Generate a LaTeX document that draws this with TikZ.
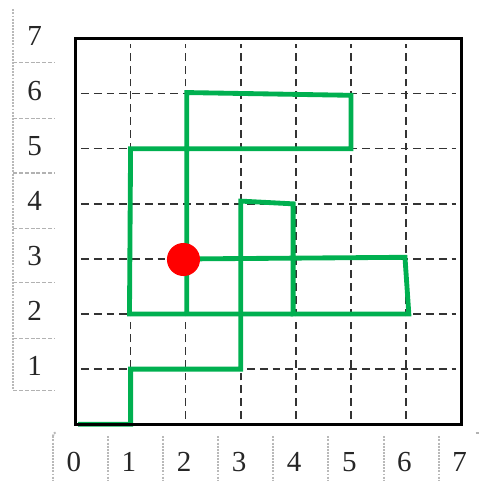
\documentclass[tikz,border=0pt]{standalone}
\usepackage{fontspec}
\setmainfont{Liberation Serif}
\definecolor{routegreen}{HTML}{00B050}
\begin{document}
\begin{tikzpicture}[
  font=\fontsize{15}{17}\selectfont,
  frame/.style={line width=1.4pt},
  gridline/.style={dash pattern=on 4pt off 2.6pt, line width=0.75pt, black!80},
  route/.style={line width=2.5pt, routegreen},
  axlabel/.style={inner sep=0pt, text=black!85},
  cellside/.style={gray!55, line width=1pt, dash pattern=on 1pt off 0.6pt},
  cellrule/.style={gray!60, line width=0.6pt, dash pattern=on 2pt off 1pt},
  dot/.style={circle, fill=red, inner sep=0pt, minimum size=0.6cm}
]
\useasboundingbox (-1.37,-1.03) rectangle (7.34,7.70);

% dashed grid
\foreach \i in {1,...,6} {
  \draw[gridline] (\i,0.1) -- (\i,6.9);
  \draw[gridline] (0.1,\i) -- (6.9,\i);
}

% green route
\draw[route] (0.05,0) -- (1,0) -- (1,1) -- (3,1) -- (3,4.05) -- (3.95,4)
  -- (3.95,2) -- (6.05,2) -- (5.98,3.03) -- (2,3);
\draw[route] (2.02,2) -- (2.02,6.02) -- (5,5.97) -- (5,5) -- (1,5)
  -- (0.98,2) -- (3.95,2);

\node[dot] (start) at (1.96,2.99) {};

\draw[frame] (0,0) rectangle (7,7);

% y labels
\draw[cellside] (-1.13,7.53) -- (-1.13,0.62);
\foreach \h in {0.62,1.56,2.57,3.56,4.56,5.55,6.57}
  \draw[cellrule] (-1.13,\h) -- (-0.37,\h);
\foreach \k in {1,...,7}
  \node[axlabel] (y\k) at (-0.74,\k+0.05) {\k};

% x labels
\foreach \s in {-0.41,0.59,1.59,2.59,3.58,4.58,5.60,6.60}
  \draw[cellside] (\s,-0.22) -- (\s,-1.03);
\draw[cellside] (-0.41,-0.22) to[out=90,in=200] (-0.35,-0.14);
\draw[cellrule] (7.26,-0.16) -- (7.32,-0.16);
\foreach \k in {0,...,7}
  \node[axlabel] (x\k) at (\k-0.03,-0.69) {\k};

\end{tikzpicture}
\end{document}
